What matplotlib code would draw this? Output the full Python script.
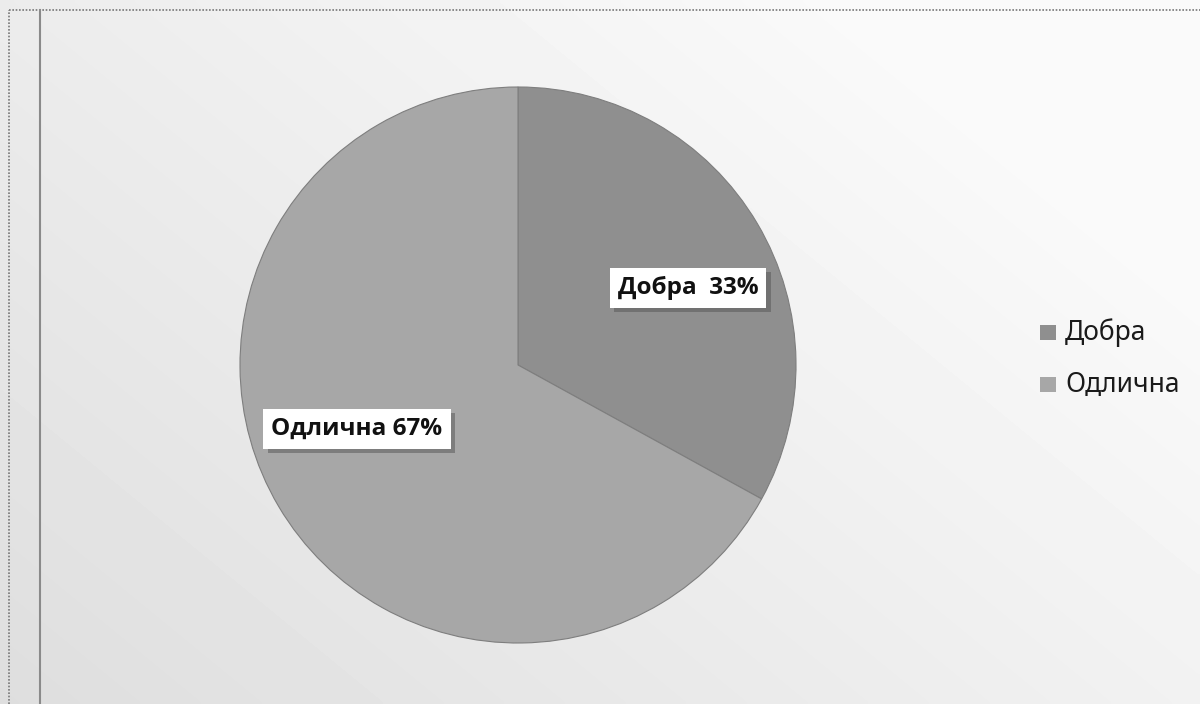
import numpy as np
import matplotlib.pyplot as plt
from matplotlib import patheffects as pe

plt.rcParams['font.family'] = ['Noto Sans', 'DejaVu Sans']

# grade shares
categories = ["Добра", "Одлична"]
shares = [33, 67]
slice_colors = ["#8f8f8f", "#a7a7a7"]

fig = plt.figure(figsize=(12, 7.04), dpi=100)

# scanned page background: grey at the left/bottom, fading to white top-right
bg = fig.add_axes([0, 0, 1, 1])
gx, gy = np.meshgrid(np.linspace(0, 1, 300), np.linspace(0, 1, 176))
shade = 0.87 + 0.11 * np.clip(0.7 * gx + 0.5 * (1 - gy), 0, 1)
bg.imshow(shade, cmap="gray", vmin=0, vmax=1, extent=[0, 1, 0, 1],
          origin="upper", aspect="auto", interpolation="bilinear")
bg.plot([9 / 1200, 1], [1 - 10 / 704, 1 - 10 / 704], color="#777777",
        lw=1.2, ls=(0, (1, 1)))
bg.plot([9 / 1200, 9 / 1200], [0, 1 - 10 / 704], color="#777777",
        lw=1.2, ls=(0, (1, 1)))
bg.plot([40 / 1200, 40 / 1200], [0, 1 - 10 / 704], color="#8a8a8a", lw=1.5)
bg.set_xlim(0, 1)
bg.set_ylim(0, 1)
bg.axis("off")

# pie, centred at (518, 365) px with radius 278 px
cx, cy, r = 518, 704 - 365, 278
ax = fig.add_axes([(cx - r) / 1200, (cy - r) / 704, 2 * r / 1200, 2 * r / 704])
wedges, _ = ax.pie(shares, colors=slice_colors, startangle=90, counterclock=False,
                   radius=1, wedgeprops=dict(edgecolor="#7e7e7e", linewidth=0.8))
ax.set_xlim(-1, 1)
ax.set_ylim(-1, 1)
ax.set_aspect("equal")
ax.axis("off")

# data labels in white boxes with a drop shadow
label_pos = [(688, 288), (357, 429)]
label_text = [f"{categories[0]}  {shares[0]}%", f"{categories[1]} {shares[1]}%"]
for (px, py), txt in zip(label_pos, label_text):
    t = fig.text(px / 1200, 1 - py / 704, txt, ha="center", va="center",
                 fontsize=17.5, fontweight="bold", color="#111111",
                 family=["Open Sans", "DejaVu Sans"],
                 bbox=dict(boxstyle="square,pad=0.33", fc="white", ec="none"))
    t.get_bbox_patch().set_path_effects([
        pe.SimplePatchShadow(offset=(3, -3), shadow_rgbFace="#555555", alpha=0.5),
        pe.Normal()])

# legend
leg_y = [333, 385]
for name, col, ly in zip(categories, slice_colors, leg_y):
    fig.patches.append(plt.Rectangle((1040 / 1200, 1 - (ly + 7) / 704),
                                     16 / 1200, 15 / 704, transform=fig.transFigure,
                                     fc=col, ec="none"))
    fig.text(1065 / 1200, 1 - ly / 704, name, ha="left", va="center",
             fontsize=19, color="#1a1a1a")

fig.savefig("out.png", dpi=100)
